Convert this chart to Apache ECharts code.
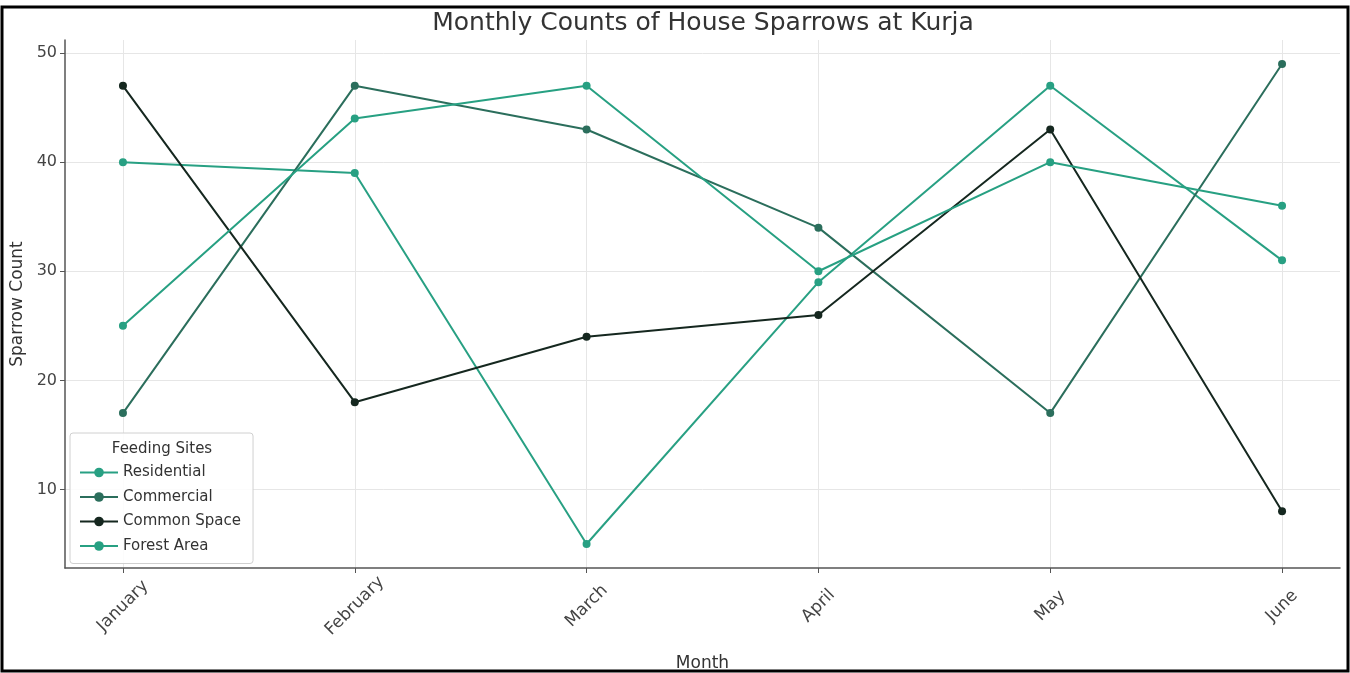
<!DOCTYPE html>
<html>
<head>
<meta charset="utf-8">
<script src="https://cdn.jsdelivr.net/npm/echarts@6/dist/echarts.min.js"></script>
<style>
html,body{margin:0;padding:0;background:#fff;}
#c{width:1350px;height:673px;}
</style>
</head>
<body>
<div id="c"></div>
<script>
const months = ["January", "February", "March", "April", "May", "June"];
const residential = [40, 39, 5, 29, 47, 31];
const commercial = [17, 47, 43, 34, 17, 49];
const commonSpace = [47, 18, 24, 26, 43, 8];
const forestArea = [25, 44, 47, 30, 40, 36];
const yTicks = [10, 20, 30, 40, 50];

const seriesDefs = [
  { name: "Residential", data: residential, color: "#28a083" },
  { name: "Commercial", data: commercial, color: "#2b6e5c" },
  { name: "Common Space", data: commonSpace, color: "#15271f" },
  { name: "Forest Area", data: forestArea, color: "#27a082" }
];

const chart = echarts.init(document.getElementById('c'));
const font = "DejaVu Sans";
chart.setOption({
  animation: false,
  backgroundColor: "#fff",
  grid: { left: 65, right: 10, top: 40, bottom: 105, containLabel: false, outerBoundsMode: "none" },
  xAxis: {
    type: "value",
    min: -0.25,
    max: 5.25,
    name: "Month",
    nameLocation: "middle",
    nameGap: 87,
    nameTextStyle: { fontFamily: font, fontSize: 17, color: "#333" },
    axisLine: { show: true, onZero: false, lineStyle: { color: "#555", width: 1.5 } },
    axisTick: { show: true, customValues: [0, 1, 2, 3, 4, 5], length: 5, lineStyle: { color: "#555" } },
    axisLabel: {
      customValues: [0, 1, 2, 3, 4, 5],
      formatter: v => months[Math.round(v)],
      rotate: 45,
      align: "center",
      verticalAlign: "middle",
      margin: 38,
      fontFamily: font,
      fontSize: 17,
      color: "#444"
    },
    splitLine: { show: true, lineStyle: { color: "#e6e6e6", width: 1 } }
  },
  yAxis: {
    type: "value",
    min: 2.8,
    max: 51.2,
    name: "Sparrow Count",
    nameLocation: "middle",
    nameGap: 39,
    nameTextStyle: { fontFamily: font, fontSize: 17, color: "#333" },
    axisLine: { show: true, onZero: false, lineStyle: { color: "#555", width: 1.5 } },
    axisTick: { show: true, customValues: yTicks, length: 5, lineStyle: { color: "#555" } },
    axisLabel: { customValues: yTicks, fontFamily: font, fontSize: 16, color: "#444", margin: 8 },
    splitLine: { show: true, lineStyle: { color: "#e6e6e6", width: 1 } }
  },
  legend: {
    orient: "vertical",
    left: 70,
    top: 433,
    padding: [32, 12, 10, 9],
    backgroundColor: "rgba(255,255,255,0.85)",
    borderColor: "#d0d0d0",
    borderWidth: 1,
    borderRadius: 3,
    itemWidth: 38,
    itemHeight: 12,
    itemGap: 9.5,
    textStyle: { fontFamily: font, fontSize: 15, color: "#333" },
    data: seriesDefs.map(s => s.name)
  },
  graphic: [
    { type: "rect", shape: { x: 2, y: 7, width: 1346, height: 664 }, style: { fill: "none", stroke: "#000", lineWidth: 3 }, silent: true },
    { type: "text", x: 703, y: 23, style: { text: "Monthly Counts of House Sparrows at Kurja", fontFamily: font, fontSize: 25, fill: "#333", align: "center", verticalAlign: "middle" }, silent: true },
    { type: "text", x: 162, y: 449, z: 100, style: { text: "Feeding Sites", fontFamily: font, fontSize: 15, fill: "#333", align: "center", verticalAlign: "middle" }, silent: true }
  ],
  series: seriesDefs.map(s => ({
    name: s.name,
    type: "line",
    data: s.data.map((v, i) => [i, v]),
    symbol: "circle",
    symbolSize: 8,
    lineStyle: { color: s.color, width: 2 },
    itemStyle: { color: s.color },
    emphasis: { disabled: true }
  }))
});
</script>
</body>
</html>
